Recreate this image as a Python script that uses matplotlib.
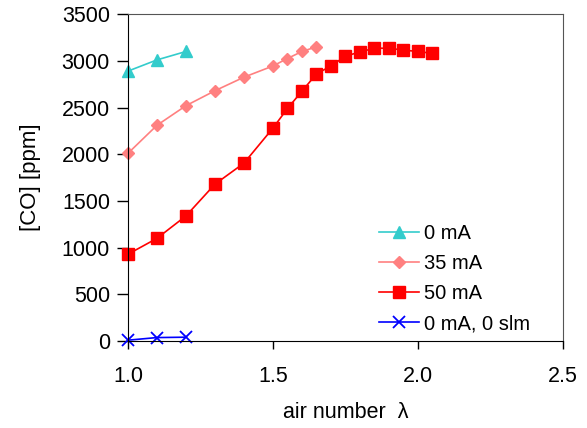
import matplotlib.pyplot as plt

plt.rcParams['font.family'] = ['Liberation Sans', 'DejaVu Sans']

# air number lambda
lam_0mA = [1.0, 1.1, 1.2]
co_0mA = [2890, 3010, 3100]

lam_35mA = [1.0, 1.1, 1.2, 1.3, 1.4, 1.5, 1.55, 1.6, 1.65]
co_35mA = [2010, 2310, 2520, 2680, 2825, 2945, 3025, 3100, 3150]

lam_50mA = [1.0, 1.1, 1.2, 1.3, 1.4, 1.5, 1.55, 1.6, 1.65, 1.7, 1.75,
            1.8, 1.85, 1.9, 1.95, 2.0, 2.05]
co_50mA = [930, 1100, 1340, 1680, 1905, 2280, 2490, 2675, 2860, 2945, 3050,
           3095, 3135, 3135, 3115, 3100, 3080]

lam_0slm = [1.0, 1.1, 1.2]
co_0slm = [10, 38, 42]

fig = plt.figure(figsize=(5.87, 4.28), dpi=100)
ax = fig.add_axes([0.218, 0.203, 0.741, 0.764])

ax.plot(lam_0mA, co_0mA, color='#33CCCC', marker='^', markersize=9, lw=1.2,
        clip_on=False, label='0 mA')
ax.plot(lam_35mA, co_35mA, color='#FF8080', marker='D', markersize=6.5, lw=1.2,
        clip_on=False, label='35 mA')
ax.plot(lam_50mA, co_50mA, color='#FF0000', marker='s', markersize=9, lw=1.2,
        clip_on=False, label='50 mA')
ax.plot(lam_0slm, co_0slm, color='#0000FF', marker='x', markersize=9, mew=1.3, lw=1.2,
        clip_on=False, label='0 mA, 0 slm')

ax.set_xlim(1.0, 2.5)
ax.set_ylim(0, 3500)
ax.set_xticks([1.0, 1.5, 2.0, 2.5])
ax.set_yticks(range(0, 3501, 500))
ax.tick_params(labelsize=15.5, direction='out', length=6, width=1)
ax.tick_params(axis='x', pad=12)
ax.tick_params(axis='y', length=8, pad=5)
ax.set_xlabel('air number  λ', fontsize=15.5, labelpad=11)
ax.set_ylabel('[CO] [ppm]', fontsize=16, labelpad=15)

for side in ['top', 'right']:
    ax.spines[side].set_color('#555555')

ax.legend(loc='upper left', bbox_to_anchor=(0.577, 0.358), frameon=False,
          fontsize=14.5, handlelength=2.0, labelspacing=0.55, handletextpad=0.25,
          borderaxespad=0, borderpad=0)

fig.savefig('out.png', dpi=100)
